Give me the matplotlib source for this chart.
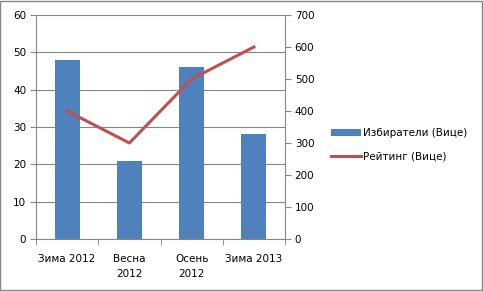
import matplotlib
matplotlib.use("Agg")
import matplotlib.pyplot as plt
from matplotlib.patches import Rectangle
import numpy as np

categories = ["Зима 2012", "Весна\n2012", "Осень\n2012", "Зима 2013"]
voters = [48, 21, 46, 28]
rating = [400, 300, 500, 600]
left_ticks = [0, 10, 20, 30, 40, 50, 60]
right_ticks = [0, 100, 200, 300, 400, 500, 600, 700]

plt.rcParams['font.family'] = ['DejaVu Sans']
fig = plt.figure(figsize=(4.83, 2.91), dpi=100)
fig.patches.append(Rectangle((0.001, 0.002), 0.997, 0.995, transform=fig.transFigure,
                             fill=False, edgecolor='#868686', linewidth=1.0))

ax = fig.add_axes([36/483, 1-239/291, (285-36)/483, (239-15)/291])
x = np.arange(len(categories))
ax.bar(x, voters, width=0.4, color='#4F81BD', zorder=2, label='Избиратели (Вице)')
ax.set_xlim(-0.5, len(categories) - 0.5)
ax.set_ylim(0, 60)
ax.set_yticks(left_ticks)
ax.yaxis.grid(True, color='#868686', linewidth=0.8, zorder=0)
ax.set_axisbelow(True)
ax.set_xticks(x)
ax.set_xticklabels(categories, fontsize=7.5, linespacing=1.6)
ax.set_xticks(np.arange(-0.5, len(categories), 1.0), minor=True)
ax.tick_params(axis='x', which='major', length=0, pad=11)
ax.tick_params(axis='x', which='minor', length=4, color='#868686', direction='out')
ax.tick_params(axis='y', length=4, color='#868686', labelsize=7.5, pad=3)
for s in ['top', 'right']:
    ax.spines[s].set_visible(False)
for s in ['left', 'bottom']:
    ax.spines[s].set_color('#868686')

ax2 = ax.twinx()
ax2.plot(x, rating, color='#C0504D', linewidth=2.2, zorder=3, label='Рейтинг (Вице)')
ax2.set_ylim(0, 700)
ax2.set_yticks(right_ticks)
ax2.tick_params(axis='y', length=4, color='#868686', labelsize=7.5, pad=3)
for s in ['top', 'left', 'bottom']:
    ax2.spines[s].set_visible(False)
ax2.spines['right'].set_color('#868686')

h1, l1 = ax.get_legend_handles_labels()
h2, l2 = ax2.get_legend_handles_labels()
fig.legend(h1 + h2, l1 + l2, loc='center left', bbox_to_anchor=(322/483, 1-145/291),
           frameon=False, fontsize=7.5, handlelength=2.8, handletextpad=0.2,
           labelspacing=1.25)

fig.savefig("out.png", dpi=100)
